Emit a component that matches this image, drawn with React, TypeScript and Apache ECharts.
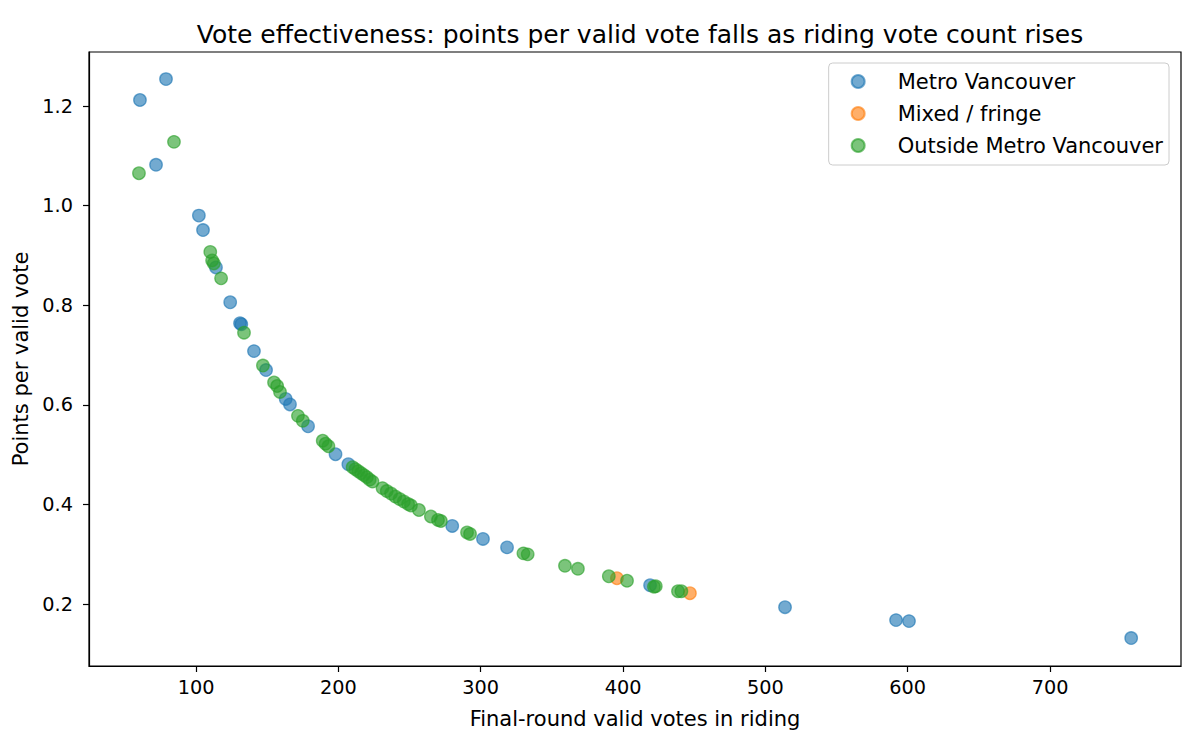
import React, { useEffect, useRef } from "react";
import * as echarts from "echarts";

// [final-round valid votes, points per valid vote]
const metroVancouver = [
  [60.6, 1.212], [78.9, 1.254], [71.9, 1.082], [102, 0.98], [104.9, 0.951],
  [114, 0.876], [124, 0.806], [130.9, 0.764], [131.8, 0.762], [140.7, 0.708],
  [149.2, 0.67], [163, 0.612], [166, 0.601], [178.7, 0.557], [198, 0.501],
  [207, 0.481], [280, 0.357], [301.6, 0.331], [318.5, 0.314], [419, 0.238],
  [513.8, 0.194], [591.8, 0.168], [600.9, 0.166], [757, 0.132],
];

const mixedFringe = [
  [395.7, 0.252], [447, 0.222],
];

const outsideMetro = [
  [59.9, 1.065], [84.5, 1.128], [110, 0.907], [111.3, 0.89], [112.5, 0.884],
  [117.6, 0.854], [133.7, 0.745], [147, 0.679], [154.8, 0.645], [157, 0.638],
  [159, 0.626], [171.6, 0.578], [175, 0.568], [189, 0.528], [191, 0.522],
  [193, 0.517], [210, 0.475], [212, 0.471], [214, 0.467], [216, 0.463],
  [218, 0.459], [220, 0.455], [222, 0.45], [224, 0.446], [231, 0.433],
  [234, 0.427], [237, 0.422], [240, 0.416], [243, 0.411], [246, 0.406],
  [249, 0.401], [251, 0.398], [256.6, 0.389], [265, 0.376], [270, 0.369],
  [272, 0.367], [290.4, 0.344], [292.5, 0.341], [330, 0.302], [333, 0.3],
  [359.2, 0.277], [368.3, 0.271], [390, 0.256], [402.8, 0.247], [421.7, 0.235],
  [423, 0.236], [438.6, 0.226], [441, 0.226],
];

const xTicks = [100, 200, 300, 400, 500, 600, 700];
const yTicks = [0.2, 0.4, 0.6, 0.8, 1.0, 1.2];

const FONT = "DejaVu Sans";

const App = () => {
  const chartRef = useRef(null);

  useEffect(() => {
    document.body.style.margin = "0";
    const chart = echarts.init(chartRef.current, null, { renderer: "svg" });

    // fill and edge drawn with separate alpha, like matplotlib markers
    const scatter = (name, data, rgb) => ({
      name,
      type: "scatter",
      data,
      symbol: "circle",
      symbolSize: 12.5,
      itemStyle: {
        color: `rgba(${rgb},0.78)`,
        borderColor: `rgba(${rgb},0.78)`,
        borderWidth: 1.3,
      },
      emphasis: { disabled: true },
    });

    const option = {
      animation: false,
      title: {
        text: "Vote effectiveness: points per valid vote falls as riding vote count rises",
        left: 635,
        textAlign: "center",
        top: 17,
        textStyle: { fontFamily: FONT, fontSize: 25, fontWeight: "normal", color: "#000" },
      },
      legend: {
        orient: "vertical",
        right: 31,
        top: 63,
        padding: [8, 6, 9, 22],
        itemWidth: 13,
        itemHeight: 13,
        itemGap: 11,
        icon: "circle",
        borderColor: "#cccccc",
        borderWidth: 1,
        borderRadius: 4,
        textStyle: {
          fontFamily: FONT,
          fontSize: 21,
          lineHeight: 21,
          color: "#000",
          padding: [0, 0, 0, 28],
        },
      },
      grid: { left: 89, right: 19, top: 52, bottom: 81, show: true, borderColor: "#000", borderWidth: 1.2 },
      xAxis: {
        type: "value",
        min: 24.8,
        max: 792,
        name: "Final-round valid votes in riding",
        nameLocation: "middle",
        nameGap: 42,
        nameTextStyle: { fontFamily: FONT, fontSize: 21, color: "#000" },
        splitLine: { show: false },
        axisLine: { lineStyle: { color: "#000", width: 1.2 } },
        axisTick: { customValues: xTicks, length: 6, lineStyle: { color: "#000", width: 1.2 } },
        axisLabel: { customValues: xTicks, margin: 12, fontFamily: FONT, fontSize: 19.3, color: "#000" },
      },
      yAxis: {
        type: "value",
        min: 0.0759,
        max: 1.3084,
        name: "Points per valid vote",
        nameLocation: "middle",
        nameGap: 58,
        nameTextStyle: { fontFamily: FONT, fontSize: 21, color: "#000" },
        splitLine: { show: false },
        axisLine: { show: true, lineStyle: { color: "#000", width: 1.2 } },
        axisTick: { show: true, customValues: yTicks, length: 6, lineStyle: { color: "#000", width: 1.2 } },
        axisLabel: {
          customValues: yTicks,
          margin: 16,
          fontFamily: FONT,
          fontSize: 19.3,
          color: "#000",
          formatter: (v) => v.toFixed(1),
        },
      },
      series: [
        scatter("Metro Vancouver", metroVancouver, "31,119,180"),
        scatter("Mixed / fringe", mixedFringe, "255,127,14"),
        scatter("Outside Metro Vancouver", outsideMetro, "44,160,44"),
      ],
    };

    chart.setOption(option);
    return () => {
      chart.dispose();
    };
  }, []);

  return <div ref={chartRef} style={{ width: "1200px", height: "747px" }}></div>;
};

export default App;
